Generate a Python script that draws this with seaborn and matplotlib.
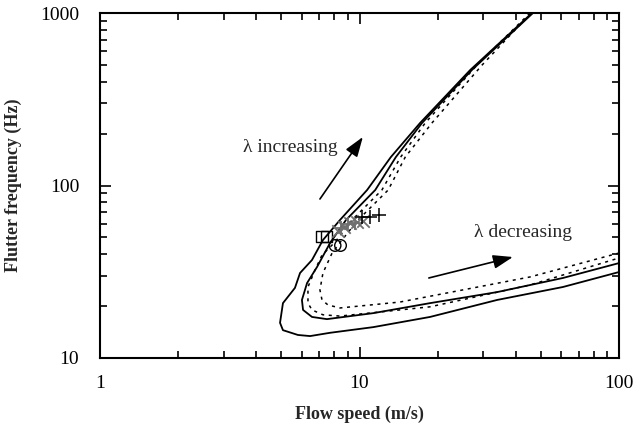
import numpy as np
import pandas as pd
import matplotlib
matplotlib.use("Agg")
import matplotlib.pyplot as plt
import seaborn as sns

# Curves (flow speed m/s, flutter frequency Hz)
s1_speed = [46.2, 26.7, 17.1, 13.2, 10.7, 8.41, 7.23, 6.56, 5.90, 5.64, 5.07, 4.94, 5.07, 5.79, 6.45, 7.70, 11.3, 18.7, 33.9, 60.8, 100]
s1_freq = [1000, 467, 230, 146, 94.2, 63.1, 48.3, 37.0, 31.1, 25.5, 20.8, 16.0, 14.5, 13.6, 13.4, 14.0, 15.1, 17.3, 21.7, 25.8, 31.5]

s2_speed = [46.6, 27.1, 17.4, 13.8, 11.5, 8.87, 7.70, 6.86, 6.28, 6.00, 6.06, 6.56, 7.49, 11.3, 18.7, 33.9, 60.8, 100]
s2_freq = [1000, 467, 230, 146, 94.2, 63.1, 46.4, 33.7, 27.2, 21.7, 19.0, 17.3, 16.8, 18.2, 20.8, 24.1, 29.1, 35.5]

d1_speed = [45.4, 28.4, 17.9, 14.4, 12.2, 9.36, 8.05, 7.17, 6.74, 6.33, 6.33, 6.56, 7.23, 8.41, 18.7, 45.4, 100]
d1_freq = [1000, 500, 230, 146, 94.2, 63.1, 47.0, 39.5, 32.4, 25.8, 20.8, 19.0, 17.8, 17.5, 19.8, 26.5, 38.0]

d2_speed = [45.8, 29.7, 19.0, 15.0, 12.9, 9.87, 8.56, 7.84, 7.23, 7.04, 7.17, 7.56, 8.41, 14.3, 45.4, 100]
d2_freq = [1000, 500, 230, 146, 94.2, 63.1, 48.3, 40.6, 31.1, 24.8, 21.7, 20.3, 19.5, 21.1, 29.5, 40.6]

# Measured points
sq_speed = [7.15, 7.47]
sq_freq = [50.5, 50.5]
ci_speed = [8.05, 8.45]
ci_freq = [44.9, 44.9]
gx_speed = [8.26, 8.71, 9.19, 9.78, 10.3]
gx_freq = [54.5, 57.4, 60.3, 61.4, 62.2]
gp_speed = [8.5, 9.0, 9.6]
gp_freq = [56.5, 59.5, 61.0]
bp_speed = [10.2, 11.0, 11.9]
bp_freq = [65.6, 66.1, 67.4]

sns.set_theme(style="ticks")
plt.rcParams['font.family'] = ['Liberation Serif', 'DejaVu Serif']

fig = plt.figure(figsize=(6.36, 4.36), dpi=100)
ax = fig.add_axes([100/636, 1-358/436, 519/636, 345/436])

curves = [
    (s1_speed, s1_freq, '-', 1.3),
    (s2_speed, s2_freq, '-', 1.3),
    (d1_speed, d1_freq, (0, (2, 3)), 1.1),
    (d2_speed, d2_freq, (0, (2, 3)), 1.1),
]
for xs, ys, ls, lw in curves:
    df = pd.DataFrame({'speed': xs, 'freq': ys})
    sns.lineplot(data=df, x='speed', y='freq', sort=False, estimator=None,
                 color='black', linewidth=lw, linestyle=ls, ax=ax)

sns.scatterplot(x=sq_speed, y=sq_freq, marker='s', s=70, facecolor='none',
                edgecolor='black', linewidth=1.0, ax=ax, zorder=5)
sns.scatterplot(x=ci_speed, y=ci_freq, marker='o', s=70, facecolor='none',
                edgecolor='black', linewidth=1.0, ax=ax, zorder=5)
sns.scatterplot(x=gx_speed, y=gx_freq, marker='x', s=80, color='#707070',
                linewidth=1.3, ax=ax, zorder=5)
sns.scatterplot(x=gp_speed, y=gp_freq, marker='+', s=90, color='#707070',
                linewidth=1.3, ax=ax, zorder=5)
sns.scatterplot(x=bp_speed, y=bp_freq, marker='+', s=100, color='black',
                linewidth=1.1, ax=ax, zorder=6)

ax.set_xscale('log')
ax.set_yscale('log')
ax.set_xlim(1, 100)
ax.set_ylim(10, 1000)
ax.set_xticks([1, 10, 100])
ax.set_xticklabels(['1', '10', '100'])
ax.set_yticks([10, 100, 1000])
ax.set_yticklabels(['10', '100', '1000'])
ax.tick_params(which='both', direction='in', top=True, right=True,
               labelsize=14, colors='black', width=1.2)
ax.tick_params(which='major', length=8, pad=12)
ax.tick_params(which='minor', length=5)
ax.tick_params(axis='y', which='major', pad=15)
for sp in ax.spines.values():
    sp.set_linewidth(1.5)
    sp.set_color('black')

ax.set_xlabel('Flow speed (m/s)', fontsize=13, fontweight='bold', labelpad=10)
ax.set_ylabel('Flutter frequency (Hz)', fontsize=13, fontweight='bold', labelpad=13)

arrow_style = dict(arrowstyle='-|>,head_length=1.0,head_width=0.35',
                   color='black', lw=1.2, shrinkA=0, shrinkB=0)
ax.annotate('', xy=(10.3, 191), xytext=(7.04, 83.5), arrowprops=arrow_style)
ax.text(5.4, 165, 'λ increasing', fontsize=14, ha='center', va='center')
ax.annotate('', xy=(39.0, 38.5), xytext=(18.5, 29.1), arrowprops=arrow_style)
ax.text(42.7, 53.7, 'λ decreasing', fontsize=14, ha='center', va='center')

fig.savefig('out.png', dpi=100)
